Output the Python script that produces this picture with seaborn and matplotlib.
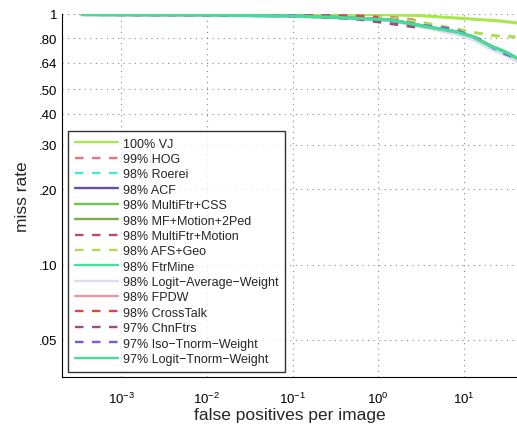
import numpy as np
import pandas as pd
import matplotlib
matplotlib.use("Agg")
import matplotlib.pyplot as plt
import seaborn as sns

# ROC curves: false positives per image vs. miss rate, one entry per detector
methods = ["100% VJ", "99% HOG", "98% Roerei", "98% ACF", "98% MultiFtr+CSS",
           "98% MF+Motion+2Ped", "98% MultiFtr+Motion", "98% AFS+Geo", "98% FtrMine",
           "98% Logit\u2212Average\u2212Weight", "98% FPDW", "98% CrossTalk",
           "97% ChnFtrs", "97% Iso\u2212Tnorm\u2212Weight", "97% Logit\u2212Tnorm\u2212Weight"]

colors = ["#a8e84a", "#f07080", "#48e8c8", "#6850a0", "#68c848",
          "#78b048", "#c04878", "#a8e050", "#48e098",
          "#d8dcf8", "#e898a0", "#d84848",
          "#985080", "#8058d0", "#40e098"]

dashed = [False, True, True, False, False,
          False, True, True, False,
          False, False, True,
          True, True, False]

# fppi / miss-rate samples for each curve
fppi_vj = [3.5e-4, 0.01, 0.1, 1.0, 3.0, 8.3, 26.0, 42.0]
miss_vj = [1.0, 1.0, 0.998, 0.995, 0.985, 0.963, 0.938, 0.92]

fppi_hog = [3.5e-4, 0.01, 0.1, 0.5, 1.4, 2.4, 3.3]
miss_hog = [0.996, 0.993, 0.99, 0.985, 0.97, 0.95, 0.93]

fppi_main = [3.5e-4, 0.01, 0.1, 0.3, 1.4, 3.3, 8.3, 12.8, 20.4, 29.0, 42.0]
miss_main = [0.995, 0.99, 0.982, 0.97, 0.946, 0.895, 0.847, 0.81, 0.745, 0.71, 0.665]

miss_law = [0.99, 0.985, 0.978, 0.965, 0.94, 0.885, 0.83, 0.79, 0.725, 0.69, 0.645]

fppi_mfm = [3.5e-4, 0.01, 0.05, 0.15, 0.4]
miss_mfm = [0.997, 0.995, 0.99, 0.985, 0.978]

fppi_afs = [3.5e-4, 0.01, 0.1, 1.0, 3.0, 7.0, 14.0, 24.0, 40.0]
miss_afs = [0.998, 0.995, 0.99, 0.975, 0.93, 0.88, 0.84, 0.817, 0.81]

fppi_ct = [3.5e-4, 0.01, 0.1, 0.45, 0.6, 1.0]
miss_ct = [0.997, 0.995, 0.99, 0.982, 0.978, 0.97]

fppi_chn = [3.5e-4, 0.01, 0.1, 0.5, 1.0, 1.8, 2.7]
miss_chn = [0.996, 0.993, 0.985, 0.96, 0.93, 0.904, 0.887]

fppi_iso = [3.5e-4, 0.01, 0.1, 0.3, 1.4, 3.3, 7.5, 15.5, 26.6, 42.0]
miss_iso = [0.995, 0.99, 0.982, 0.97, 0.946, 0.9, 0.87, 0.79, 0.705, 0.665]

curves = {
    methods[0]: (fppi_vj, miss_vj),
    methods[1]: (fppi_hog, miss_hog),
    methods[2]: (fppi_main, miss_main),
    methods[3]: (fppi_main, miss_main),
    methods[4]: (fppi_main, miss_main),
    methods[5]: (fppi_main, miss_main),
    methods[6]: (fppi_mfm, miss_mfm),
    methods[7]: (fppi_afs, miss_afs),
    methods[8]: (fppi_main, miss_main),
    methods[9]: (fppi_main, miss_law),
    methods[10]: (fppi_main, miss_main),
    methods[11]: (fppi_ct, miss_ct),
    methods[12]: (fppi_chn, miss_chn),
    methods[13]: (fppi_iso, miss_iso),
    methods[14]: (fppi_main, miss_main),
}

ytick_vals = [0.05, 0.10, 0.20, 0.30, 0.40, 0.50, 0.64, 0.80, 1.0]
ytick_labels = [".05", ".10", ".20", ".30", ".40", ".50", ".64", ".80", "1"]
xtick_vals = [1e-3, 1e-2, 1e-1, 1e0, 1e1]

sns.set_style("white")
plt.rcParams["font.family"] = ["Liberation Sans", "DejaVu Sans"]
plt.rcParams["mathtext.fontset"] = "custom"
plt.rcParams["mathtext.rm"] = "Liberation Sans"
plt.rcParams["mathtext.it"] = "Liberation Sans"

fig = plt.figure(figsize=(5.17, 4.27), dpi=100)
ax = fig.add_axes([0.12, 0.115, 0.88, 0.85])

rows = []
for m in methods:
    fx, my = curves[m]
    for a, b in zip(fx, my):
        rows.append((m, a, b))
df = pd.DataFrame(rows, columns=["method", "fppi", "miss"])

# later curves are drawn over earlier ones
for m, c, d in zip(methods, colors, dashed):
    sub = df[df["method"] == m]
    sns.lineplot(data=sub, x="fppi", y="miss", ax=ax, color=c, lw=2.2,
                 linestyle=(0, (2.8, 2.8)) if d else "-", label=m,
                 estimator=None, sort=False)

ax.set_xscale("log")
ax.set_yscale("log")
ax.set_xlim(2.04e-4, 41.7)
ax.set_ylim(0.0356, 1.0)
ax.set_yticks(ytick_vals)
ax.set_yticklabels(ytick_labels)
ax.set_xticks(xtick_vals)
ax.set_xticklabels([r"$10^{-3}$", r"$10^{-2}$", r"$10^{-1}$", r"$10^{0}$", r"$10^{1}$"])
ax.minorticks_off()
ax.tick_params(axis="both", direction="in", length=4, width=0.8, labelsize=9.5, colors="black")
ax.tick_params(axis="x", pad=10)
ax.grid(True, which="major", linestyle=(0, (1, 4)), color="#888888", lw=0.8)

for s in ["top", "right"]:
    ax.spines[s].set_visible(False)
for s in ["left", "bottom"]:
    ax.spines[s].set_color("black")
    ax.spines[s].set_linewidth(0.8)

ax.set_xlabel("false positives per image", fontsize=12.5, labelpad=1)
ax.set_ylabel("miss rate", fontsize=12.5, labelpad=6)

handles, labels = ax.get_legend_handles_labels()
order = [labels.index(m) for m in methods]
leg = ax.legend([handles[i] for i in order], [labels[i] for i in order],
                loc="lower left", bbox_to_anchor=(0.013, 0.014), fontsize=9,
                frameon=True, fancybox=False, edgecolor="black",
                handlelength=3.45, handletextpad=0.4, labelspacing=0.27,
                borderpad=0.55, borderaxespad=0.0)
leg.get_frame().set_linewidth(1.0)
for ln, d in zip(leg.get_lines(), dashed):
    ln.set_linewidth(1.7)
    if d:
        ln.set_linestyle((0, (3.6, 3.6)))

fig.savefig("out.png", dpi=100)
